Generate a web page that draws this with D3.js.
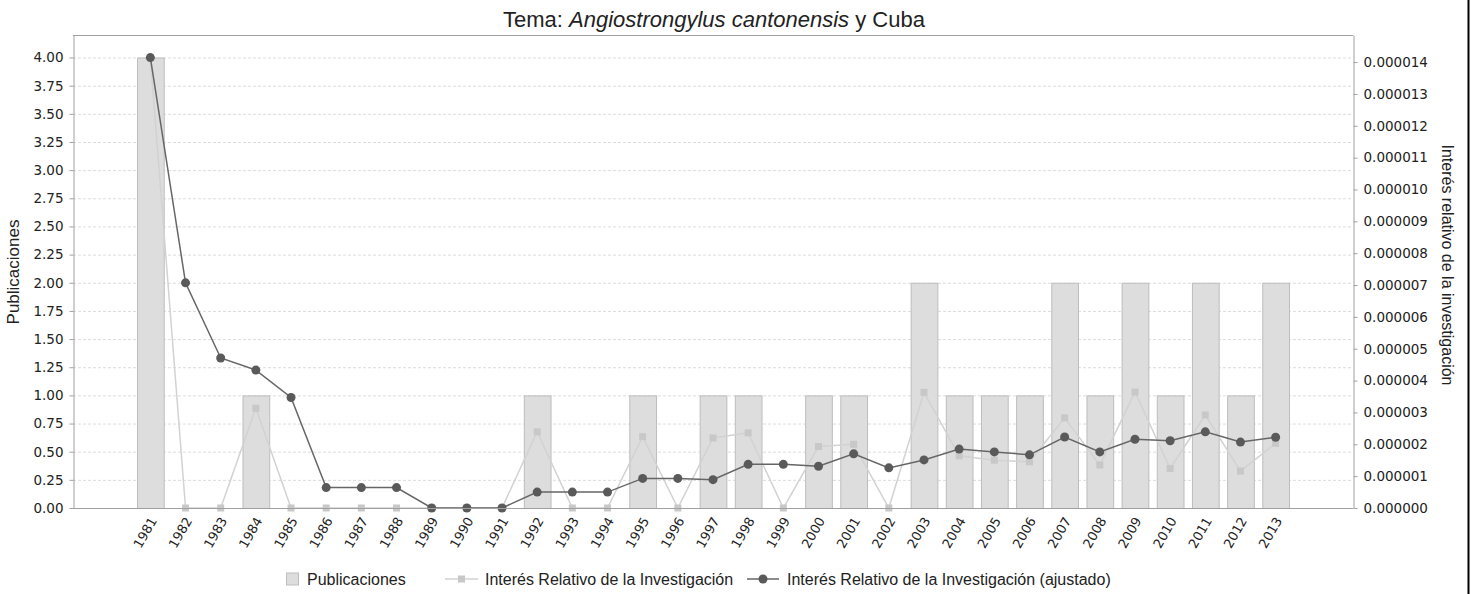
<!DOCTYPE html>
<html>
<head>
<meta charset="utf-8">
<script src="https://cdn.jsdelivr.net/npm/d3@7"></script>
<style>
  html, body { margin: 0; padding: 0; background: #fff; }
  svg text { fill: #222; }
</style>
</head>
<body>
<div id="chart"></div>
<script>

  /**
   * Data
   */

  const years = ['1981', '1982', '1983', '1984', '1985', '1986', '1987', '1988', '1989', '1990',
                 '1991', '1992', '1993', '1994', '1995', '1996', '1997', '1998', '1999', '2000',
                 '2001', '2002', '2003', '2004', '2005', '2006', '2007', '2008', '2009', '2010',
                 '2011', '2012', '2013'];

  const publicaciones = [4, 0, 0, 1, 0, 0, 0, 0, 0, 0,
                         0, 1, 0, 0, 1, 0, 1, 1, 0, 1,
                         1, 0, 2, 1, 1, 1, 2, 1, 2, 1,
                         2, 1, 2];

  const interes = [14.14e-6, 0, 0, 3.13e-6, 0, 0, 0, 0, 0, 0,
                   0, 2.39e-6, 0, 0, 2.24e-6, 0, 2.20e-6, 2.36e-6, 0, 1.93e-6,
                   2.00e-6, 0, 3.63e-6, 1.64e-6, 1.50e-6, 1.45e-6, 2.83e-6, 1.35e-6, 3.64e-6, 1.24e-6,
                   2.92e-6, 1.16e-6, 2.03e-6];

  const interesAjustado = [14.14e-6, 7.07e-6, 4.71e-6, 4.33e-6, 3.47e-6, 0.64e-6, 0.64e-6, 0.64e-6, 0, 0,
                           0, 0.50e-6, 0.50e-6, 0.50e-6, 0.93e-6, 0.93e-6, 0.89e-6, 1.37e-6, 1.37e-6, 1.31e-6,
                           1.70e-6, 1.26e-6, 1.51e-6, 1.85e-6, 1.76e-6, 1.67e-6, 2.23e-6, 1.76e-6, 2.16e-6, 2.11e-6,
                           2.39e-6, 2.07e-6, 2.22e-6];

  const leftTicks = [0, 0.25, 0.5, 0.75, 1, 1.25, 1.5, 1.75, 2, 2.25, 2.5, 2.75, 3, 3.25, 3.5, 3.75, 4];
  const rightTicks = [0, 0.000001, 0.000002, 0.000003, 0.000004, 0.000005, 0.000006, 0.000007,
                      0.000008, 0.000009, 0.00001, 0.000011, 0.000012, 0.000013, 0.000014];

  const legendLabels = ['Publicaciones', 'Interés Relativo de la Investigación',
                        'Interés Relativo de la Investigación (ajustado)'];


  /**
   * Layout
   */

  const width = 1478;
  const height = 594;
  const plot = { left: 73, right: 1353, top: 35, bottom: 508 };

  const colors = {
    barFill: '#dddddd',
    barStroke: '#bdbdbd',
    light: '#d2d2d2',
    lightMark: '#c8c8c8',
    dark: '#666666',
    darkMark: '#5a5a5a',
    grid: '#dcdcdc',
    axis: '#a0a0a0',
  };

  const svg = d3.select('#chart')
                .append('svg')
                .attr('width', width)
                .attr('height', height);

  const x = d3.scaleBand()
              .domain(years)
              .range([plot.left, plot.right])
              .paddingInner(0.24)
              .paddingOuter(1.82);

  const yLeft = d3.scaleLinear()
                  .domain([0, 4.2])
                  .range([plot.bottom, plot.top]);

  const yRight = d3.scaleLinear()
                   .domain([0, 14.85e-6])
                   .range([plot.bottom, plot.top]);

  const cx = d => x(d) + x.bandwidth() / 2;


  // grid
  svg.append('g')
     .selectAll('line')
     .data(leftTicks.filter(t => t > 0))
     .enter()
     .append('line')
     .attr('x1', plot.left)
     .attr('x2', plot.right)
     .attr('y1', d => yLeft(d) + 0.5)
     .attr('y2', d => yLeft(d) + 0.5)
     .attr('stroke', colors.grid)
     .attr('stroke-dasharray', '3,2');

  // bars
  svg.append('g')
     .selectAll('rect')
     .data(years.map((year, i) => ({ year, value: publicaciones[i] })).filter(d => d.value > 0))
     .enter()
     .append('rect')
     .attr('x', d => x(d.year) + 0.5)
     .attr('y', d => yLeft(d.value) + 0.5)
     .attr('width', x.bandwidth())
     .attr('height', d => yLeft(0) - yLeft(d.value))
     .attr('fill', colors.barFill)
     .attr('stroke', colors.barStroke);

  // plot frame
  svg.append('line')
     .attr('x1', plot.left).attr('x2', plot.right)
     .attr('y1', plot.top + 0.5).attr('y2', plot.top + 0.5)
     .attr('stroke', colors.axis);

  // light series
  const lightData = years.map((year, i) => ({ year, value: interes[i] }));
  const line = d3.line().x(d => cx(d.year)).y(d => yRight(d.value));

  svg.append('path')
     .datum(lightData)
     .attr('d', line)
     .attr('fill', 'none')
     .attr('stroke', colors.light)
     .attr('stroke-width', 1.5);

  svg.append('g')
     .selectAll('rect')
     .data(lightData)
     .enter()
     .append('rect')
     .attr('x', d => cx(d.year) - 3.5)
     .attr('y', d => yRight(d.value) - 3.5)
     .attr('width', 7)
     .attr('height', 7)
     .attr('fill', colors.lightMark);

  // adjusted series
  const darkData = years.map((year, i) => ({ year, value: interesAjustado[i] }));

  svg.append('path')
     .datum(darkData)
     .attr('d', line)
     .attr('fill', 'none')
     .attr('stroke', colors.dark)
     .attr('stroke-width', 1.5);

  svg.append('g')
     .selectAll('circle')
     .data(darkData)
     .enter()
     .append('circle')
     .attr('cx', d => cx(d.year))
     .attr('cy', d => yRight(d.value))
     .attr('r', 4.5)
     .attr('fill', colors.darkMark);


  /**
   * Axes
   */

  const styleAxis = (g, size) => {
    g.select('.domain').attr('stroke', colors.axis);
    g.selectAll('.tick line').attr('stroke', colors.axis);
    g.selectAll('.tick text')
     .attr('fill', '#222')
     .style('font-family', 'DejaVu Sans')
     .style('font-size', size + 'px');
  };

  svg.append('g')
     .attr('transform', `translate(${plot.left + 0.5},0)`)
     .call(d3.axisLeft(yLeft).tickValues(leftTicks).tickFormat(d3.format('.2f'))
             .tickSize(4).tickSizeOuter(0).tickPadding(6))
     .call(g => styleAxis(g, 13.5));

  svg.append('g')
     .attr('transform', `translate(${plot.right + 0.5},0)`)
     .call(d3.axisRight(yRight).tickValues(rightTicks).tickFormat(d3.format('.6f'))
             .tickSize(4).tickSizeOuter(0).tickPadding(6))
     .call(g => styleAxis(g, 13.5));

  const xAxis = svg.append('g')
     .attr('transform', `translate(0,${plot.bottom + 0.5})`)
     .call(d3.axisBottom(x).tickSize(0).tickSizeOuter(0));

  styleAxis(xAxis, 13);

  xAxis.select('.domain').attr('d', `M${plot.left},0H${plot.right}`);

  xAxis.selectAll('.tick text')
       .attr('text-anchor', 'end')
       .attr('dy', null)
       .attr('y', 0)
       .attr('transform', 'translate(7,12) rotate(-60)');


  // axis titles
  svg.append('text')
     .attr('transform', `translate(19,272) rotate(-90)`)
     .attr('text-anchor', 'middle')
     .style('font-family', 'Liberation Sans')
     .style('font-size', '17px')
     .text('Publicaciones');

  svg.append('text')
     .attr('transform', `translate(1442,265) rotate(90)`)
     .attr('text-anchor', 'middle')
     .style('font-family', 'Liberation Sans')
     .style('font-size', '16px')
     .text('Interés relativo de la investigación');

  // title
  const title = svg.append('text')
     .attr('x', 714)
     .attr('y', 27)
     .attr('text-anchor', 'middle')
     .style('font-family', 'Liberation Sans')
     .style('font-size', '22px');

  title.append('tspan').text('Tema: ');
  title.append('tspan').style('font-style', 'italic').text('Angiostrongylus cantonensis');
  title.append('tspan').text(' y Cuba');


  /**
   * Legend
   */

  const legend = svg.append('g')
     .style('font-family', 'Liberation Sans')
     .style('font-size', '16px');

  const legendY = 579;

  legend.append('rect')
        .attr('x', 286.5).attr('y', legendY - 6)
        .attr('width', 12).attr('height', 12)
        .attr('fill', colors.barFill)
        .attr('stroke', colors.barStroke);
  legend.append('text').attr('x', 307).attr('y', legendY + 6).text(legendLabels[0]);

  legend.append('line')
        .attr('x1', 445).attr('x2', 478)
        .attr('y1', legendY).attr('y2', legendY)
        .attr('stroke', colors.light).attr('stroke-width', 1.5);
  legend.append('rect')
        .attr('x', 458).attr('y', legendY - 3.5)
        .attr('width', 7).attr('height', 7)
        .attr('fill', colors.lightMark);
  legend.append('text').attr('x', 485).attr('y', legendY + 6).text(legendLabels[1]);

  legend.append('line')
        .attr('x1', 747).attr('x2', 779)
        .attr('y1', legendY).attr('y2', legendY)
        .attr('stroke', colors.dark).attr('stroke-width', 1.5);
  legend.append('circle')
        .attr('cx', 763).attr('cy', legendY)
        .attr('r', 4.5)
        .attr('fill', colors.darkMark);
  legend.append('text').attr('x', 787).attr('y', legendY + 6).text(legendLabels[2]);

  // right border of the picture
  svg.append('line')
     .attr('x1', 1468.5).attr('x2', 1468.5)
     .attr('y1', 0).attr('y2', height)
     .attr('stroke', '#000')
     .attr('stroke-width', 2);

</script>
</body>
</html>
